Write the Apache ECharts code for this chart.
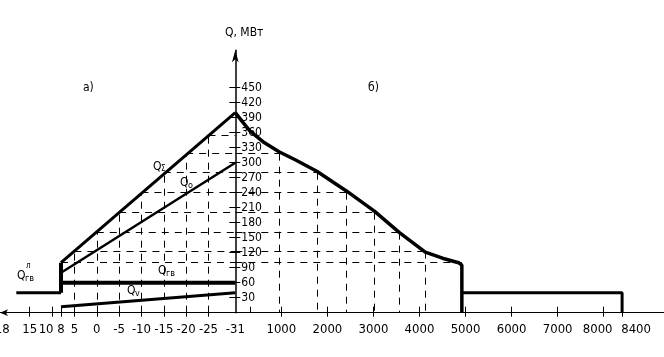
<!DOCTYPE html>
<html><head><meta charset="utf-8">
<script src="https://cdn.jsdelivr.net/npm/echarts@6/dist/echarts.min.js"></script>
<style>html,body{margin:0;padding:0;background:#fff}#c{width:664px;height:357px}</style>
</head><body><div id="c"></div>
<script>
const FONT = "'Liberation Sans Narrow','DejaVu Sans Condensed','Liberation Sans',sans-serif";

// ---- tick labels ----
const tempTickLabels = [18, 15, 10, 8, 5, 0, -5, -10, -15, -20, -25, -31];
const tempTicks = [15, 10, 8, 5, 0, -5, -10, -15, -20, -25];
const hourTickLabels = [1000, 2000, 3000, 4000, 5000, 6000, 7000, 8000, 8400];
const hourMinorTicks = [335];
const loadTicks = [30, 60, 90, 120, 150, 180, 210, 240, 270, 300, 330, 360, 390, 420, 450];

// ---- а) load vs outdoor temperature ----
const tempEnds = [8, -31];
const qSigma = [100, 400];
const qO = [80, 300];
const qGv = [60, 60];
const qV = [12, 40];
const summerTemps = [18, 8];
const qGvSummer = [40, 40];

// ---- projection (dashed) grid ----
const gridTemps = [8, 5, 0, -5, -10, -15, -20, -25];
const gridLoads = [100, 122, 160, 200, 240, 280, 318, 355];
const gridHours = [4920, 4125, 3565, 3020, 2420, 1770, 957, null];

// ---- б) load duration curve ----
const curveHours = [0, 170, 320, 600, 950, 1300, 1770, 2420, 3020, 3565, 4125, 4500, 4850, 4920, 4920];
const curveLoads = [400, 380, 363, 342, 322, 306, 283, 243, 203, 160, 121, 109, 100, 95, 0];
const summerHours = [4920, 8400, 8400];
const summerLoads = [40, 40, 0];

const T_MIN = -31, T_MAX = 21.65, H_MAX = 9310, Q_MAX = 525;
const BLACK = '#000';

function zip(a, b) { return a.map((v, i) => [v, b[i]]); }

const leftDash = [], rightDash = [];
gridTemps.forEach((t, i) => {
  const q = gridLoads[i];
  if (t !== tempEnds[0]) leftDash.push({ coords: [[t, 0], [t, q]] });
  leftDash.push({ coords: [[t, q], [T_MIN, q]] });
  const h = gridHours[i];
  if (h !== null) {
    rightDash.push({ coords: [[0, q], [h, q]] });
    if (h !== summerHours[0]) rightDash.push({ coords: [[h, q], [h, 0]] });
  }
});

function lineSeries(data, w, xi, yi) {
  return { type: 'line', data, xAxisIndex: xi, yAxisIndex: yi, symbol: 'none', silent: true,
    lineStyle: { color: BLACK, width: w }, z: 3 };
}

// label nudges (hand-lettered placement in the original drawing)
const base = { fontFamily: FONT, fontSize: 13, color: BLACK };
const labelRich = {
  l28: { ...base, padding: [0, 28, 0, 0] },
  l12: { ...base, padding: [0, 12, 0, 0] },
  r28: { ...base, padding: [0, 0, 0, 28] }
};
const nudge = { 18: 'l28', 10: 'l12', 8000: 'l12', 8400: 'r28' };
const fmt = v => (nudge[v] ? '{' + nudge[v] + '|' + v + '}' : String(v));

const tickLabelStyle = { color: BLACK, fontFamily: FONT, fontSize: 13, hideOverlap: false,
  showMinLabel: true, showMaxLabel: true, formatter: fmt, rich: labelRich };

const option = {
  animation: false,
  backgroundColor: '#fff',
  grid: [
    { left: 0, width: 235.3, top: 50.2, height: 262.5, containLabel: false, outerBoundsMode: 'none' },
    { left: 235.3, right: 0, top: 50.2, height: 262.5, containLabel: false, outerBoundsMode: 'none' }
  ],
  xAxis: [
    { gridIndex: 0, type: 'value', position: 'bottom', min: T_MIN, max: T_MAX, inverse: true, splitLine: { show: false },
      axisLine: { show: true, lineStyle: { color: BLACK, width: 1 }, symbol: ['arrow', 'none'], symbolSize: [5, 8] },
      axisTick: { show: true, customValues: tempTicks, length: 4, lineStyle: { color: BLACK } },
      axisLabel: { show: true, customValues: tempTickLabels, margin: 10, ...tickLabelStyle } },
    { gridIndex: 0, type: 'value', position: 'bottom', min: T_MIN, max: T_MAX, inverse: true, splitLine: { show: false },
      axisLine: { show: false },
      axisTick: { show: true, inside: true, customValues: tempTicks, length: 6, lineStyle: { color: BLACK } },
      axisLabel: { show: false } },
    { gridIndex: 1, type: 'value', position: 'bottom', min: 0, max: H_MAX, splitLine: { show: false },
      axisLine: { show: true, lineStyle: { color: BLACK, width: 1 } },
      axisTick: { show: true, customValues: hourTickLabels, length: 4, lineStyle: { color: BLACK } },
      axisLabel: { show: true, customValues: hourTickLabels, margin: 10, ...tickLabelStyle } },
    { gridIndex: 1, type: 'value', position: 'bottom', min: 0, max: H_MAX, splitLine: { show: false },
      axisLine: { show: false },
      axisTick: { show: true, inside: true, customValues: hourTickLabels.concat(hourMinorTicks), length: 6, lineStyle: { color: BLACK } },
      axisLabel: { show: false } }
  ],
  yAxis: [
    { gridIndex: 0, type: 'value', min: 0, max: Q_MAX, show: false },
    { gridIndex: 1, type: 'value', min: 0, max: Q_MAX, position: 'left', splitLine: { show: false },
      axisLine: { show: true, lineStyle: { color: BLACK, width: 1.5 }, symbol: ['none', 'arrow'], symbolSize: [5, 12] },
      axisTick: { show: true, inside: true, customValues: loadTicks, length: 5, lineStyle: { color: BLACK } },
      axisLabel: { show: true, inside: true, customValues: loadTicks, margin: 6, color: BLACK, fontFamily: FONT, fontSize: 12,
        showMinLabel: true, showMaxLabel: true } },
    { gridIndex: 1, type: 'value', min: 0, max: Q_MAX, position: 'left', splitLine: { show: false },
      axisLine: { show: false },
      axisTick: { show: true, customValues: loadTicks, length: 6, lineStyle: { color: BLACK } },
      axisLabel: { show: false } }
  ],
  series: [
    { type: 'lines', coordinateSystem: 'cartesian2d', xAxisIndex: 0, yAxisIndex: 0, silent: true, z: 1,
      lineStyle: { color: BLACK, width: 1, type: [7, 6], opacity: 1 }, data: leftDash },
    { type: 'lines', coordinateSystem: 'cartesian2d', xAxisIndex: 2, yAxisIndex: 1, silent: true, z: 1,
      lineStyle: { color: BLACK, width: 1, type: [7, 6], opacity: 1 }, data: rightDash },
    lineSeries(zip(tempEnds, qSigma), 3, 0, 0),
    lineSeries(zip(tempEnds, qO), 2.5, 0, 0),
    lineSeries(zip(tempEnds, qGv), 4, 0, 0),
    lineSeries(zip(tempEnds, qV), 3, 0, 0),
    lineSeries(zip(summerTemps, qGvSummer), 3, 0, 0),
    lineSeries([[tempEnds[0], qGvSummer[1]], [tempEnds[0], qSigma[0]]], 4, 0, 0),
    lineSeries(zip(curveHours, curveLoads), 3.5, 2, 1),
    lineSeries(zip(summerHours, summerLoads), 3, 2, 1)
  ],
  graphic: [
    { type: 'text', left: 225, top: 27, style: { text: 'Q, МВт', font: '12px ' + FONT, fill: BLACK } },
    { type: 'text', left: 83, top: 82, style: { text: 'а)', font: '12px ' + FONT, fill: BLACK } },
    { type: 'text', left: 368, top: 82, style: { text: 'б)', font: '12px ' + FONT, fill: BLACK } },
    { type: 'text', left: 153, top: 161, style: { text: 'Q', font: '12px ' + FONT, fill: BLACK } },
    { type: 'text', left: 161, top: 165, style: { text: 'Σ', font: '8px ' + FONT, fill: BLACK } },
    { type: 'text', left: 180, top: 177, style: { text: 'Q', font: '12px ' + FONT, fill: BLACK } },
    { type: 'text', left: 188, top: 181, style: { text: 'о', font: '9px ' + FONT, fill: BLACK } },
    { type: 'text', left: 158, top: 265, style: { text: 'Q', font: '12px ' + FONT, fill: BLACK } },
    { type: 'text', left: 166, top: 269, style: { text: 'гв', font: '9px ' + FONT, fill: BLACK } },
    { type: 'text', left: 127, top: 285, style: { text: 'Q', font: '12px ' + FONT, fill: BLACK } },
    { type: 'text', left: 135, top: 289, style: { text: 'v', font: '9px ' + FONT, fill: BLACK } },
    { type: 'text', left: 17, top: 270, style: { text: 'Q', font: '12px ' + FONT, fill: BLACK } },
    { type: 'text', left: 25, top: 274, style: { text: 'гв', font: '9px ' + FONT, fill: BLACK } },
    { type: 'text', left: 26, top: 262, style: { text: 'л', font: '8px ' + FONT, fill: BLACK } }
  ]
};

const chart = echarts.init(document.getElementById('c'));
chart.setOption(option);
</script>
</body></html>
